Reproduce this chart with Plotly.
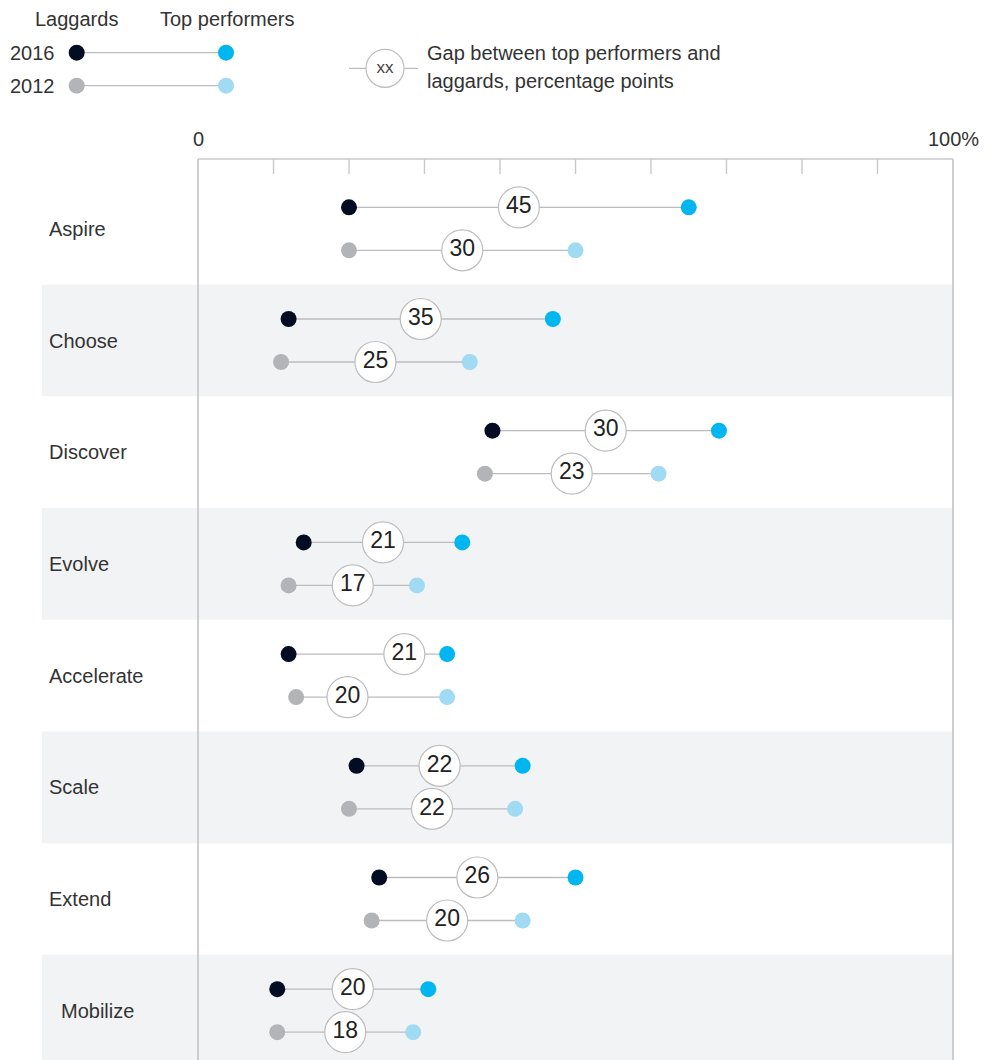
import plotly.graph_objects as go

# ---- data ---------------------------------------------------------------
categories = ["Aspire", "Choose", "Discover", "Evolve",
              "Accelerate", "Scale", "Extend", "Mobilize"]
laggards_2016 = [20, 12, 39, 14, 12, 21, 24, 10.5]
top_2016 = [65, 47, 69, 35, 33, 43, 50, 30.5]
laggards_2012 = [20, 11, 38, 12, 13, 20, 23, 10.5]
top_2012 = [50, 36, 61, 29, 33, 42, 43, 28.5]
axis_ticks = [0, 10, 20, 30, 40, 50, 60, 70, 80, 90, 100]
axis_tick_labels = {0: "0", 100: "100%"}

# ---- styling ------------------------------------------------------------
W, H = 991, 1060
FONT = "Liberation Sans, Arial, sans-serif"
TEXT = "#333333"
NAVY = "#020c22"
CYAN = "#00b6f0"
GREY_DOT = "#b3b4b8"
LIGHT_CYAN = "#a0daf3"
CONNECTOR = "#bcbcc0"
RULE = "#c9c9cd"
BAND = "#f2f3f5"

# pixel geometry of the canvas (0% / 100% columns, row pitch)
X0_PX, X100_PX = 198, 953
ROW0_PX, ROW_PITCH = 228.8, 111.7
YEAR_OFFSET = 21.5 / ROW_PITCH          # 2016 above, 2012 below row centre

# where along a segment the gap bubble sits (default: midpoint)
gap_bubble_at = {("Accelerate", 2016): 0.73, ("Accelerate", 2012): 0.34}
label_indent_px = {"Mobilize": 58.5}


def xv(px):
    return (px - X0_PX) / (X100_PX - X0_PX) * 100


def yv(px):
    return (px - ROW0_PX) / ROW_PITCH


fig = go.Figure()

# alternating row bands
shapes = []
for i, _ in enumerate(categories):
    if i % 2 == 1:
        shapes.append(dict(type="rect", xref="x", yref="y", layer="below",
                           x0=xv(42), x1=100, y0=i - 0.5, y1=i + 0.5,
                           fillcolor=BAND, line=dict(width=0)))

# frame: top rule, ticks, 0% and 100% verticals
shapes.append(dict(type="line", xref="x", yref="y", x0=0, x1=100,
                   y0=yv(159), y1=yv(159), line=dict(color=RULE, width=1.6)))
for t in axis_ticks:
    if t in (0, 100):
        shapes.append(dict(type="line", xref="x", yref="y", x0=t, x1=t,
                           y0=yv(159), y1=yv(H + 5),
                           line=dict(color=RULE, width=1.8)))
    else:
        shapes.append(dict(type="line", xref="x", yref="y", x0=t, x1=t,
                           y0=yv(159), y1=yv(174),
                           line=dict(color=RULE, width=1.4)))

# dumbbells
series = [
    (2016, laggards_2016, top_2016, NAVY, CYAN, -YEAR_OFFSET),
    (2012, laggards_2012, top_2012, GREY_DOT, LIGHT_CYAN, YEAR_OFFSET),
]
for year, lag, top, c_lag, c_top, dy in series:
    lx, ly = [], []
    for i, (a, b) in enumerate(zip(lag, top)):
        lx += [a, b, None]
        ly += [i + dy, i + dy, None]
    fig.add_trace(go.Scatter(x=lx, y=ly, mode="lines", hoverinfo="skip",
                             line=dict(color=CONNECTOR, width=1.3),
                             showlegend=False))
    ys = [i + dy for i in range(len(categories))]
    fig.add_trace(go.Scatter(x=lag, y=ys, mode="markers", name=f"Laggards {year}",
                             marker=dict(size=16, color=c_lag, line=dict(width=0)),
                             showlegend=False))
    fig.add_trace(go.Scatter(x=top, y=ys, mode="markers", name=f"Top performers {year}",
                             marker=dict(size=16, color=c_top, line=dict(width=0)),
                             showlegend=False))
    bx, btxt = [], []
    for cat, a, b in zip(categories, lag, top):
        f = gap_bubble_at.get((cat, year), 0.5)
        bx.append(a + (b - a) * f)
        btxt.append(f"{round(b - a):d}")
    fig.add_trace(go.Scatter(x=bx, y=ys, mode="markers+text", text=btxt,
                             textposition="middle center",
                             textfont=dict(family=FONT, size=23, color="#222222"),
                             marker=dict(size=41, color="white",
                                         line=dict(color="#bdbdbd", width=1.2)),
                             hoverinfo="skip", showlegend=False))

# key: laggards / top performers
for year, c_lag, c_top, py in [(2016, NAVY, CYAN, 52.7), (2012, GREY_DOT, LIGHT_CYAN, 85.7)]:
    fig.add_trace(go.Scatter(x=[xv(76.7), xv(226)], y=[yv(py), yv(py)],
                             mode="lines", line=dict(color=CONNECTOR, width=1.3),
                             hoverinfo="skip", showlegend=False))
    fig.add_trace(go.Scatter(x=[xv(76.7), xv(226)], y=[yv(py), yv(py)],
                             mode="markers", marker=dict(size=16, color=[c_lag, c_top]),
                             hoverinfo="skip", showlegend=False))

# key: gap bubble
fig.add_trace(go.Scatter(x=[xv(349), xv(418)], y=[yv(68.3), yv(68.3)], mode="lines",
                         line=dict(color=CONNECTOR, width=1.3), hoverinfo="skip",
                         showlegend=False))
fig.add_trace(go.Scatter(x=[xv(385)], y=[yv(68.3)], mode="markers+text", text=["xx"],
                         textposition="middle center",
                         textfont=dict(family=FONT, size=17, color="#444444"),
                         marker=dict(size=38, color="white",
                                     line=dict(color="#bdbdbd", width=1.2)),
                         hoverinfo="skip", showlegend=False))

annotations = []


def note(text, x, y, xanchor="center", size=20):
    annotations.append(dict(text=text, x=x, y=y, xref="x", yref="y",
                            xanchor=xanchor, yanchor="middle", showarrow=False,
                            font=dict(family=FONT, size=size, color=TEXT)))


note("Laggards", xv(76), yv(19))
note("Top performers", xv(227), yv(19))
note("2016", xv(7.5), yv(53), xanchor="left")
note("2012", xv(7.5), yv(86), xanchor="left")
note("Gap between top performers and", xv(424.5), yv(53), xanchor="left")
note("laggards, percentage points", xv(424.5), yv(81), xanchor="left")

for t, lbl in axis_tick_labels.items():
    note(lbl, t, yv(139))

for i, cat in enumerate(categories):
    note(cat, xv(label_indent_px.get(cat, 46.5)), i, xanchor="left")

fig.update_layout(
    width=W, height=H,
    margin=dict(l=0, r=0, t=0, b=0),
    paper_bgcolor="white", plot_bgcolor="white",
    shapes=shapes, annotations=annotations,
    xaxis=dict(range=[xv(0), xv(W)], visible=False, fixedrange=True),
    yaxis=dict(range=[yv(H), yv(0)], visible=False, fixedrange=True),
    showlegend=False,
)

fig.write_html("out.html")
